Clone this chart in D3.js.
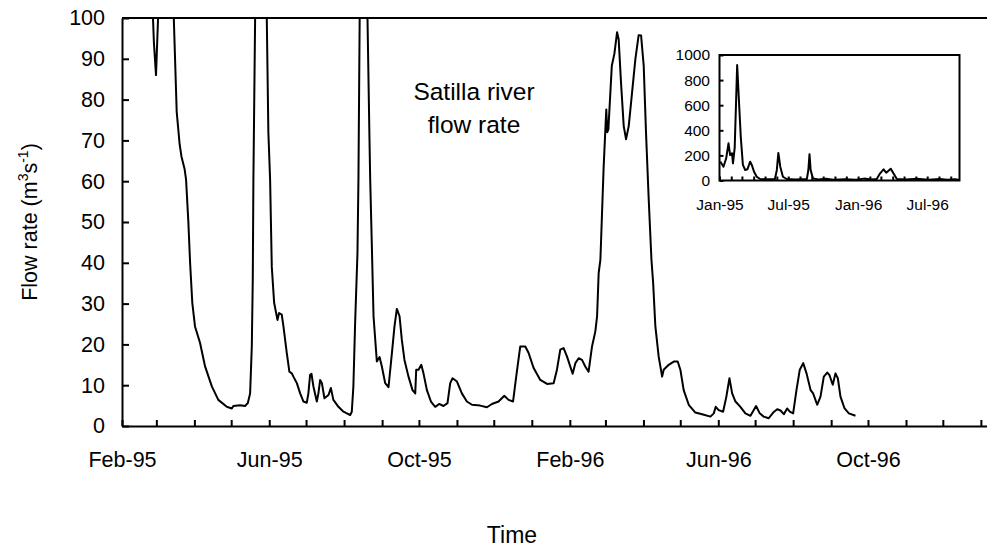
<!DOCTYPE html>
<html>
<head>
<meta charset="utf-8">
<script src="https://cdn.jsdelivr.net/npm/d3@7"></script>
<style>
  body { margin: 0; background: #fff; }
  svg { display: block; font-family: "Liberation Sans", Arial, sans-serif; }
  .axis path, .axis line { stroke: #000; stroke-width: 2; }
  .axis text { fill: #000; }
</style>
</head>
<body>
<svg id="chart" width="987" height="548"></svg>
<script>
// main series: days since 1 Feb 1995, flow in m3/s (values above 100 run off the top)
const mainDay = [0, 15, 24, 26, 27.7, 30, 33, 37, 41, 42.2, 44.6, 47, 48.5, 51, 52.2, 54.1, 55.5, 57.3, 59.5,
  63.6, 67.7, 73.2, 78.5, 85.4, 89.5, 90.8, 96.2, 100.3, 102.5, 104.4, 105.8, 106.6, 107.1, 108.5, 110, 113, 116,
  118, 119.3, 120.7, 122.1, 124, 126.7, 128, 130.2, 131.6, 134.3, 136.4, 138.4, 139.7, 142.5, 145.2, 147.9, 150.6,
  151.9, 153.3, 154.4, 156, 158.8, 160.1, 161.5, 162.9, 165, 168.3, 170.2, 172.3, 176.4, 180.5, 183.3, 186, 187.3,
  188.6, 190, 191.9, 192.7, 193.7, 196, 199, 200.1, 201.7, 202.3, 203.7, 205, 207.7, 209.9, 211.8, 214.5, 217.2,
  220, 222.1, 224, 226.2, 228.1, 230.2, 233.5, 236.8, 239, 239.8, 241.7, 243.9, 245.7, 248.5, 251.8, 255.3, 258.5,
  262, 265.3, 267.5, 269.4, 273, 277, 281.1, 285.2, 292, 297.4, 301.5, 306.9, 311.6, 315.1, 318.7, 321.3, 324.6,
  328.7, 331.4, 335.5, 340.9, 346.4, 351.8, 354.5, 357.2, 359.9, 362.7, 367.3, 369.5, 372.2, 374.9, 377.6, 380.3,
  383.1, 385.8, 387.2, 388.5, 389.9, 392.6, 394.7, 395.5, 396.4, 399.2, 401.3, 403.5, 404.8, 406.7, 408.9, 410.8,
  413, 415.7, 418.4, 421.1, 423.1, 425.2, 427.1, 429.3, 431.5, 432.9, 434.7, 437.4, 440.2, 441.5, 445.6, 449.7,
  452.9, 455.1, 457.8, 461.9, 467.3, 472.8, 479.6, 482.3, 483.9, 486.3, 489.9, 492.6, 495.1, 497.3, 500, 504,
  508.1, 512.2, 516.8, 519.8, 523, 527.1, 530.7, 534, 536.7, 539.4, 542.1, 544.3, 547, 549.7, 552.4, 555.2, 557.9,
  561.2, 563.3, 566.6, 569.3, 572, 574.8, 576.6, 579.3, 581.5, 583.4, 585.6, 588.9, 592.4, 597.8];
const mainFlow = [250, 220, 110, 94, 86, 105, 300, 600, 200, 100, 77, 69, 66, 63, 60.4, 50, 40, 30.2, 24.4,
  20.4, 14.6, 9.7, 6.4, 4.7, 4.3, 4.9, 5.1, 4.9, 5.6, 8, 19.5, 35.9, 60, 100, 180, 250, 200,
  100, 72, 60.4, 39, 30.2, 26, 27.7, 27.3, 24.4, 17.9, 13.3, 12.9, 12.1, 10.5, 8, 6, 5.7,
  8, 12.5, 12.8, 9.7, 6, 8, 11.3, 10.5, 6.8, 7.6, 9.3, 6.4, 4.7, 3.5, 3.1, 2.7, 3.5,
  9.7, 25.2, 42.4, 60.4, 100, 200, 180, 100, 70.3, 60.4, 43.2, 26.9, 15.8, 16.9, 14.6, 10.5, 9.5,
  17.9, 24.4, 28.7, 26.9, 21.1, 16.2, 12.1, 8.8, 8, 13.8, 13.8, 15, 12.9, 8.8, 6, 4.7, 5.4,
  4.9, 5.6, 10.5, 11.7, 10.9, 8, 6, 5.2, 5, 4.6, 5.4, 6, 7.4, 6.4, 6, 12.1, 19.5,
  19.5, 17.9, 14.2, 11.3, 10.3, 10.5, 13.8, 18.7, 19.1, 17, 12.8, 15.4, 16.6, 16.2, 14.6, 13.3,
  19.5, 23.2, 26.9, 37.5, 40.8, 63.7, 77.6, 72, 72.7, 88.3, 91.2, 96.5, 94.8, 84.2, 73.5, 70.3,
  73.5, 81.7, 89.9, 95.8, 95.7, 88.3, 71.9, 55.5, 40.8, 35, 24.4, 17, 12.1, 13.8, 15, 15.8,
  15.8, 13.8, 8.8, 5.2, 3.3, 2.9, 2.3, 3.1, 4.7, 3.9, 3.5, 7.2, 11.7, 8, 6, 4.7,
  3.1, 2.5, 4.9, 3.1, 2.3, 1.9, 3.3, 4.1, 3.8, 2.9, 4.3, 3.5, 3.1, 8.8, 13.8, 15.4, 12.9,
  8.8, 8, 5.2, 7.2, 12.1, 13.1, 12.5, 10.1, 12.9, 11.7, 7.2, 4.3, 3.1, 2.5];

// inset series: days since 1 Jan 1995, whole range of flow
const insetDay = [2, 5, 10.5, 17.6, 23.7, 28, 33, 35.5, 40, 46.5, 52, 56, 61.6, 67.7, 73.7, 80.8, 85, 91, 98, 107,
  120, 146, 151, 155, 160, 167, 177, 200, 230, 234, 237, 240, 246, 260, 280, 300, 330, 360, 380, 400, 414,
  423, 432, 439, 451, 458, 467, 490, 520, 550, 580, 600, 620, 633];
const insetFlow = [150, 137, 110, 177, 296, 203, 217, 137, 260, 920, 588, 349, 124, 84, 90, 150, 124, 70, 30, 12,
  10, 12, 84, 220, 110, 30, 12, 8, 12, 84, 210, 84, 17, 8, 14, 6, 10, 6, 15, 8, 12,
  57, 89, 62, 94, 57, 12, 8, 14, 6, 12, 6, 10, 5];

const yTicks = [0, 10, 20, 30, 40, 50, 60, 70, 80, 90, 100];
const labelMonths = [1, 5, 9];            // Feb, Jun, Oct
const insetYTicks = [0, 200, 400, 600, 800, 1000];
const insetLabelMonths = [0, 6];          // Jan, Jul

const mainStart = new Date(1995, 1, 1);
const insetStart = new Date(1995, 0, 1);

const svg = d3.select('#chart');
const fmt = d3.timeFormat('%b-%y');

// ---- main chart
const m = { left: 122, right: 987, top: 18, bottom: 426 };

const x = d3.scaleTime()
  .domain([mainStart, new Date(1997, 0, 6)])
  .range([m.left, m.right]);
const y = d3.scaleLinear().domain([0, 100]).range([m.bottom, m.top]);

svg.append('clipPath').attr('id', 'clipMain')
  .append('rect').attr('x', m.left).attr('y', m.top)
  .attr('width', m.right - m.left).attr('height', m.bottom - m.top);

const mainData = mainDay.map((d, i) => ({ date: d3.timeHour.offset(mainStart, Math.round(d * 24)), v: mainFlow[i] }));

svg.append('path')
  .datum(mainData)
  .attr('clip-path', 'url(#clipMain)')
  .attr('fill', 'none')
  .attr('stroke', '#000')
  .attr('stroke-width', 2)
  .attr('stroke-linejoin', 'round')
  .attr('d', d3.line().x(d => x(d.date)).y(d => y(d.v)));

const months = d3.timeMonth.range(mainStart, new Date(1997, 0, 7));

svg.append('g').attr('class', 'axis')
  .attr('transform', `translate(0,${m.bottom})`)
  .call(d3.axisBottom(x).tickValues(months).tickSize(-6).tickSizeOuter(0).tickPadding(26)
    .tickFormat(d => labelMonths.includes(d.getMonth()) ? fmt(d) : ''))
  .call(g => g.selectAll('text').attr('font-size', 21.5).attr('font-family', null));

svg.append('g').attr('class', 'axis')
  .attr('transform', `translate(${m.left},0)`)
  .call(d3.axisLeft(y).tickValues(yTicks).tickSize(-7).tickSizeOuter(0).tickPadding(17))
  .call(g => g.selectAll('text').attr('font-size', 21.5).attr('font-family', null));

// top border
svg.append('line')
  .attr('x1', m.left).attr('x2', m.right).attr('y1', m.top).attr('y2', m.top)
  .attr('stroke', '#000').attr('stroke-width', 2);

// titles
svg.append('text')
  .attr('transform', 'translate(37,222) rotate(-90)')
  .attr('text-anchor', 'middle')
  .attr('font-size', 21.5)
  .call(t => {
    t.append('tspan').text('Flow rate (m');
    t.append('tspan').attr('dy', -9).attr('font-size', 14).text('3');
    t.append('tspan').attr('dy', 9).text('s');
    t.append('tspan').attr('dy', -9).attr('font-size', 14).text('-1');
    t.append('tspan').attr('dy', 9).text(')');
  });

svg.append('text')
  .attr('x', 512).attr('y', 543)
  .attr('text-anchor', 'middle')
  .attr('font-size', 23)
  .text('Time');

const title = svg.append('text').attr('text-anchor', 'middle').attr('font-size', 24.5);
title.append('tspan').attr('x', 474).attr('y', 100).text('Satilla river');
title.append('tspan').attr('x', 474).attr('y', 133).text('flow rate');

// ---- inset
const im = { left: 719.5, right: 959.5, top: 55, bottom: 180.5 };

const xi = d3.scaleTime()
  .domain([insetStart, new Date(1996, 8, 24)])
  .range([im.left, im.right]);
const yi = d3.scaleLinear().domain([0, 1000]).range([im.bottom, im.top]);

svg.append('rect')
  .attr('x', im.left).attr('y', im.top)
  .attr('width', im.right - im.left).attr('height', im.bottom - im.top)
  .attr('fill', '#fff').attr('stroke', '#000').attr('stroke-width', 2);

const insetData = insetDay.map((d, i) => ({ date: d3.timeHour.offset(insetStart, Math.round(d * 24)), v: insetFlow[i] }));

svg.append('path')
  .datum(insetData)
  .attr('fill', 'none')
  .attr('stroke', '#000')
  .attr('stroke-width', 2)
  .attr('stroke-linejoin', 'round')
  .attr('d', d3.line().x(d => xi(d.date)).y(d => yi(d.v)));

const insetMonths = d3.timeMonth.range(insetStart, new Date(1996, 8, 24));

svg.append('g').attr('class', 'axis')
  .attr('transform', `translate(0,${im.bottom})`)
  .call(d3.axisBottom(xi).tickValues(insetMonths).tickSize(-4).tickSizeOuter(0).tickPadding(18)
    .tickFormat(d => insetLabelMonths.includes(d.getMonth()) ? fmt(d) : ''))
  .call(g => g.selectAll('text').attr('font-size', 15.5).attr('font-family', null))
  .call(g => g.select('.domain').remove());

svg.append('g').attr('class', 'axis')
  .attr('transform', `translate(${im.left},0)`)
  .call(d3.axisLeft(yi).tickValues(insetYTicks).tickFormat(d3.format('d'))
    .tickSize(-4).tickSizeOuter(0).tickPadding(9.5))
  .call(g => g.selectAll('text').attr('font-size', 15.5).attr('font-family', null))
  .call(g => g.select('.domain').remove());
</script>
</body>
</html>
